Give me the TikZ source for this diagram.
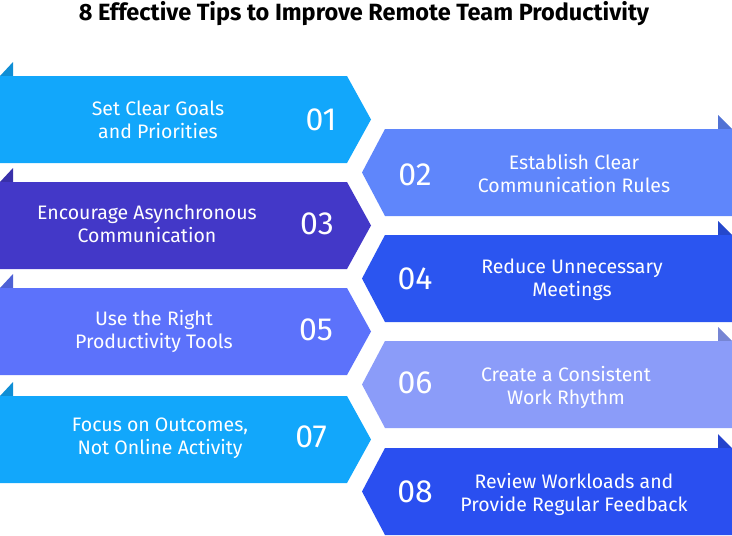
\documentclass[tikz,border=0pt]{standalone}
\usepackage{fontspec}
\setmainfont{Fira Sans}
\usepackage{xcolor}
\usepackage{tikz}
\usetikzlibrary{positioning}

\definecolor{sky}{HTML}{12A7FB}
\definecolor{cornflower}{HTML}{5F86FB}
\definecolor{indigo}{HTML}{4338C8}
\definecolor{royal}{HTML}{2B55F0}
\definecolor{periwinkle}{HTML}{5C72FB}
\definecolor{lavender}{HTML}{8B9CF9}
\definecolor{cobalt}{HTML}{2A4FF0}

\begin{document}
\begin{tikzpicture}[
  x=1pt, y=-1pt,
  tipbox/.style={fill=#1},
  fold/.style={fill=#1!85!black},
  tiptext/.style={text=white, align=center, font=\fontsize{19.5}{23}\selectfont},
  tipnum/.style={text=white, font=\fontsize{32}{32}\selectfont},
  heading/.style={text=black, font=\bfseries\fontsize{23.5}{27}\selectfont},
]
  \useasboundingbox (0,0) rectangle (732,536);

  \node[heading] (title) at (364,14) {8 Effective Tips to Improve Remote Team Productivity};

  % left column, pointing right
  \fill[fold=sky] (0,76) -- (13,62) -- (13,76) -- cycle;
  \fill[tipbox=sky] (0,76) -- (347,76) -- (371,119.5) -- (347,163) -- (0,163) -- cycle;
  \fill[fold=indigo] (0,182) -- (13,168) -- (13,182) -- cycle;
  \fill[tipbox=indigo] (0,182) -- (347,182) -- (371,225.5) -- (347,269) -- (0,269) -- cycle;
  \fill[fold=periwinkle] (0,288) -- (13,274) -- (13,288) -- cycle;
  \fill[tipbox=periwinkle] (0,288) -- (347,288) -- (371,331.5) -- (347,375) -- (0,375) -- cycle;
  \fill[fold=sky] (0,396) -- (13,382) -- (13,396) -- cycle;
  \fill[tipbox=sky] (0,396) -- (347,396) -- (371,439.5) -- (347,483) -- (0,483) -- cycle;

  % right column, pointing left
  \fill[fold=cornflower] (732,129) -- (718,115) -- (718,129) -- cycle;
  \fill[tipbox=cornflower] (385,129) -- (732,129) -- (732,216) -- (385,216) -- (362,172.5) -- cycle;
  \fill[fold=royal] (732,235) -- (718,221) -- (718,235) -- cycle;
  \fill[tipbox=royal] (385,235) -- (732,235) -- (732,322) -- (385,322) -- (362,278.5) -- cycle;
  \fill[fold=lavender] (732,341) -- (718,327) -- (718,341) -- cycle;
  \fill[tipbox=lavender] (385,341) -- (732,341) -- (732,428) -- (385,428) -- (362,384.5) -- cycle;
  \fill[fold=cobalt] (732,448) -- (718,434) -- (718,448) -- cycle;
  \fill[tipbox=cobalt] (385,448) -- (732,448) -- (732,535) -- (385,535) -- (362,491.5) -- cycle;

  \node[tiptext] (goals) at (158,119.5) {Set Clear Goals\\ and Priorities};
  \node[tipnum] (n01) at (321,119.5) {01};
  \node[tiptext] (rules) at (574,174) {Establish Clear\\ Communication Rules};
  \node[tipnum] (n02) at (415,175) {02};
  \node[tiptext] (async) at (147,224) {Encourage Asynchronous\\ Communication};
  \node[tipnum] (n03) at (317,224) {03};
  \node[tiptext] (meetings) at (572,280) {Reduce Unnecessary\\ Meetings};
  \node[tipnum] (n04) at (415,279) {04};
  \node[tiptext] (tools) at (154,331) {Use the Right\\ Productivity Tools};
  \node[tipnum] (n05) at (316,330) {05};
  \node[tiptext] (rhythm) at (566,387) {Create a Consistent\\ Work Rhythm};
  \node[tipnum] (n06) at (415,383) {06};
  \node[tiptext] (outcomes) at (160,438) {Focus on Outcomes,\\ Not Online Activity};
  \node[tipnum] (n07) at (311,437) {07};
  \node[tiptext] (feedback) at (574,494) {Review Workloads and\\ Provide Regular Feedback};
  \node[tipnum] (n08) at (415,492) {08};
\end{tikzpicture}
\end{document}
